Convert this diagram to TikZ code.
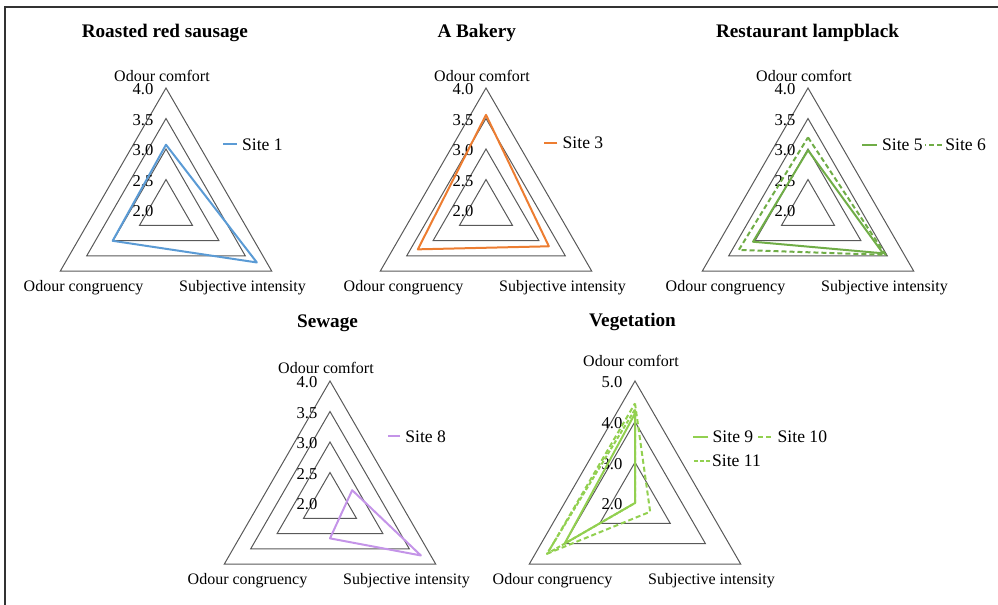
\documentclass[tikz,border=0pt]{standalone}
\usepackage{fontspec}
\setmainfont{Liberation Serif}
\usetikzlibrary{positioning}
\definecolor{ringgray}{RGB}{89,89,89}
\definecolor{siteblue}{RGB}{91,155,213}
\definecolor{siteorange}{RGB}{237,125,49}
\definecolor{sitegreen}{RGB}{112,173,71}
\definecolor{sitepurple}{RGB}{196,148,232}
\definecolor{sitelime}{RGB}{146,208,80}
\tikzset{
  frame/.style  = {draw=black!80, line width=1pt},
  ring/.style   = {draw=ringgray, line width=0.5pt},
  series/.style = {line width=1pt, line join=round},
  dashA/.style  = {dash pattern=on 2.5pt off 1.5pt},
  dashB/.style  = {dash pattern=on 2pt off 1pt},
  ttl/.style    = {font=\fontsize{9.6}{11}\selectfont\bfseries, anchor=base, inner sep=0pt},
  axlbl/.style  = {font=\fontsize{8}{9.6}\selectfont, anchor=base, inner sep=0pt},
  tick/.style   = {font=\fontsize{8.3}{10}\selectfont, anchor=base, inner sep=0pt},
  leg/.style    = {font=\fontsize{8.8}{10.5}\selectfont, anchor=base west, inner sep=0pt}
}
% rings, tick values and axis names of one chart
\newcommand{\radarframe}[5]{%
  \foreach \k in {1,...,#2}
    \draw[ring] (270:{\k*#1}) -- (30:{\k*#1}) -- (150:{\k*#1}) -- cycle;
  \foreach \v [count=\k from 0] in {#3}
    \node[tick] at (-23,{6.7-\k*#1}) {\v};
  \node[axlbl] (#5oc) at (-4,#4) {Odour comfort};
  \node[axlbl] (#5og) at (-82.5,81.5) {Odour congruency};
  \node[axlbl] (#5si) at (76.5,81.5) {Subjective intensity};
}
% one site: style, px per unit, comfort, intensity, congruency
\newcommand{\sitepoly}[5]{%
  \draw[#1] (270:{(#3-2)*#2}) -- (30:{(#4-2)*#2}) -- (150:{(#5-2)*#2}) -- cycle;}

\begin{document}
\begin{tikzpicture}[x=0.5pt, y=-0.5pt]
\useasboundingbox (0,0) rectangle (998,605);
\draw[frame] (5,605) -- (5,7) -- (998,7);

\begin{scope}[shift={(166,210)}]
  \radarframe{30.5}{4}{2.0,2.5,3.0,3.5,4.0}{-128.8}{a}
  \node[ttl] (ta) at (-1.2,-172.5) {Roasted red sausage};
  \sitepoly{series, siteblue}{61}{3.07}{3.72}{3.01}
\end{scope}
\node[leg] (lg1) at (241.7,150) {Site 1};
\draw[series, siteblue] ([xshift=-2.5pt]lg1.west) -- ++(-13.4,0);

\begin{scope}[shift={(486,210)}]
  \radarframe{30.5}{4}{2.0,2.5,3.0,3.5,4.0}{-128.8}{b}
  \node[ttl] (tb) at (-9.3,-172.5) {A Bakery};
  \sitepoly{series, siteorange}{61}{3.56}{3.19}{3.29}
\end{scope}
\node[leg] (lg3) at (562.3,148.5) {Site 3};
\draw[series, siteorange] ([xshift=-2.5pt]lg3.west) -- ++(-13.4,0);

\begin{scope}[shift={(808,210)}]
  \radarframe{30.5}{4}{2.0,2.5,3.0,3.5,4.0}{-128.8}{c}
  \node[ttl] (tc) at (-0.5,-172.5) {Restaurant lampblack};
  \sitepoly{series, sitegreen}{61}{2.98}{3.42}{3.04}
  \sitepoly{series, dashA, sitegreen}{61}{3.19}{3.47}{3.31}
\end{scope}
\node[leg] (lg5) at (881.7,150.7) {Site 5};
\node[leg] (lg6) at (945,150.7) {Site 6};
\draw[series, sitegreen] ([xshift=-2.5pt]lg5.west) -- ++(-15,0);
\draw[series, dashA, sitegreen] ([xshift=-1.6pt]lg6.west) -- ++(-16.7,0);

\begin{scope}[shift={(330,503)}]
  \radarframe{30.5}{4}{2.0,2.5,3.0,3.5,4.0}{-129.5}{d}
  \node[ttl] (td) at (-2.5,-175.7) {Sewage};
  \sitepoly{series, sitepurple}{61}{1.42}{3.72}{1.58}
\end{scope}
\node[leg] (lg8) at (405,442.2) {Site 8};
\draw[series, sitepurple] ([xshift=-2.5pt]lg8.west) -- ++(-11.7,0);

\begin{scope}[shift={(635,503)}]
  \radarframe{40.67}{3}{2.0,3.0,4.0,5.0}{-136.3}{e}
  \node[ttl] (te) at (-2.5,-176.3) {Vegetation};
  \sitepoly{series, sitelime}{40.67}{4.2}{2.0}{4.0}
  \sitepoly{series, dashA, sitelime}{40.67}{4.45}{2.43}{4.49}
  \sitepoly{series, dashB, sitelime}{40.67}{4.3}{2.0}{4.5}
\end{scope}
\node[leg] (lg9) at (712.3,442.7) {Site 9};
\node[leg] (lg10) at (777.3,442.7) {Site 10};
\node[leg] (lg11) at (711.7,466.7) {Site 11};
\draw[series, sitelime] ([xshift=-2pt]lg9.west) -- ++(-15,0);
\draw[series, dashA, sitelime] ([xshift=-3.3pt]lg10.west) -- ++(-13.4,0);
\draw[series, dashB, sitelime] ([xshift=-0.8pt]lg11.west) -- ++(-16.7,0);
\end{tikzpicture}
\end{document}
